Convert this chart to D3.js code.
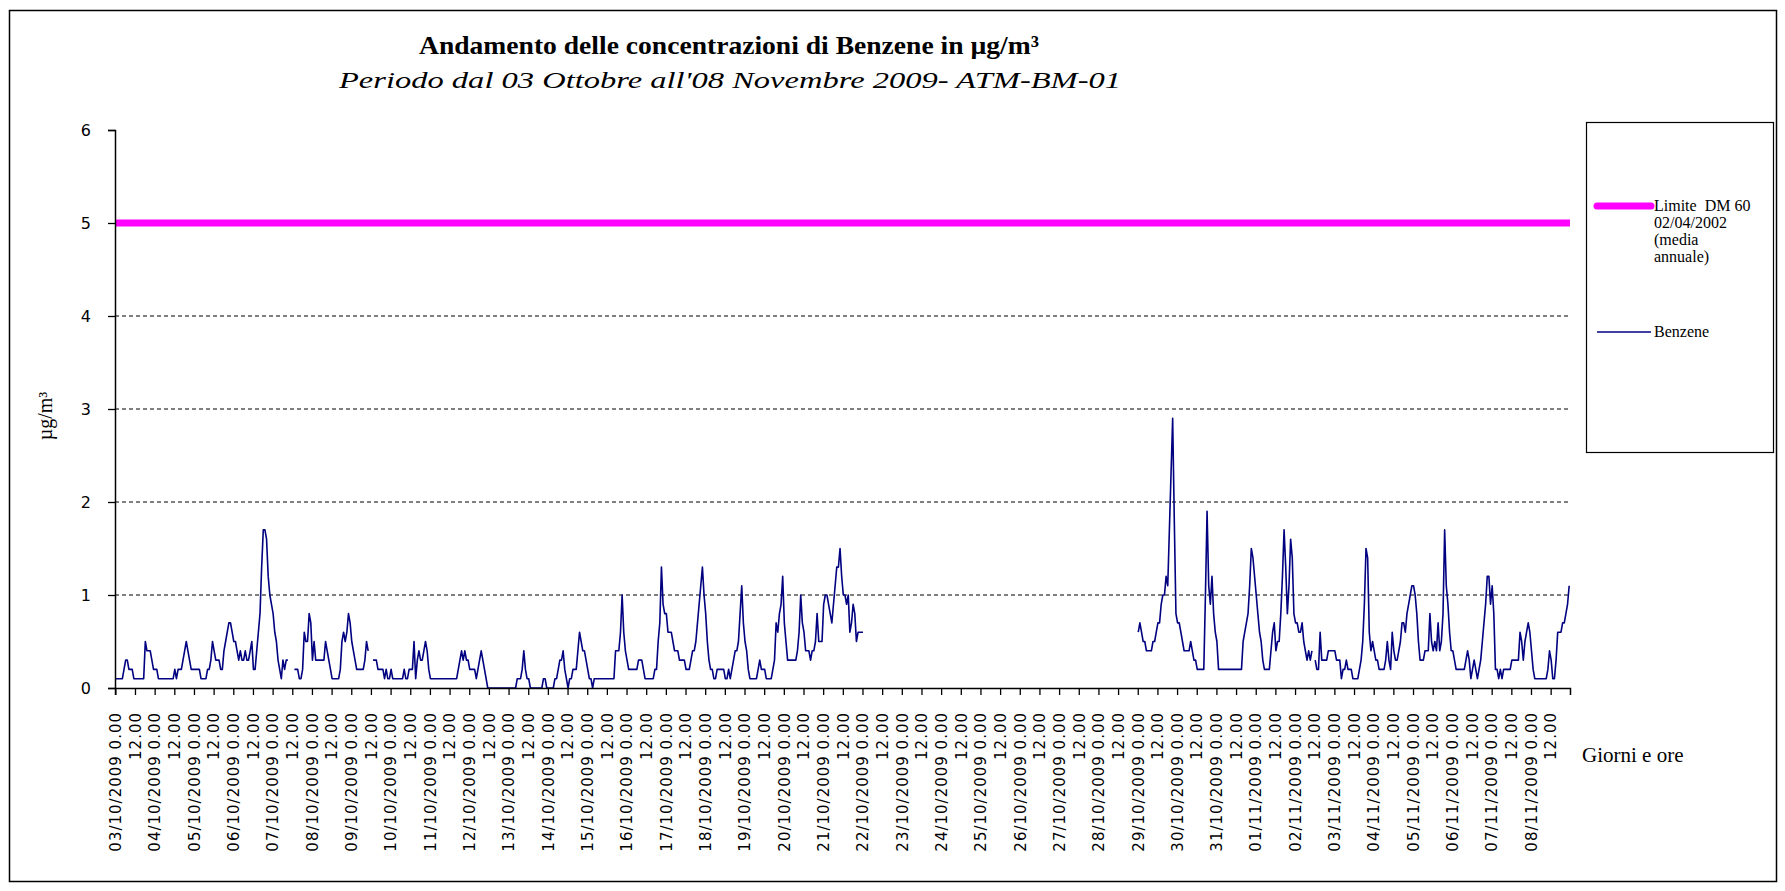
<!DOCTYPE html>
<html>
<head>
<meta charset="utf-8">
<script src="https://cdn.jsdelivr.net/npm/d3@7"></script>
<style>
  body { margin: 0; background: #fff; }
  svg text { fill: #000; }
</style>
</head>
<body>
<svg id="chart" width="1785" height="891"></svg>
<script>
// ---- data ----
const yTicks = [0, 1, 2, 3, 4, 5, 6];
const gridLevels = [1, 2, 3, 4];
const limitValue = 5; // DM 60 02/04/2002, media annuale

const days = [
  "03/10/2009", "04/10/2009", "05/10/2009", "06/10/2009", "07/10/2009", "08/10/2009", "09/10/2009",
  "10/10/2009", "11/10/2009", "12/10/2009", "13/10/2009", "14/10/2009", "15/10/2009", "16/10/2009",
  "17/10/2009", "18/10/2009", "19/10/2009", "20/10/2009", "21/10/2009", "22/10/2009", "23/10/2009",
  "24/10/2009", "25/10/2009", "26/10/2009", "27/10/2009", "28/10/2009", "29/10/2009", "30/10/2009",
  "31/10/2009", "01/11/2009", "02/11/2009", "03/11/2009", "04/11/2009", "05/11/2009", "06/11/2009",
  "07/11/2009", "08/11/2009"
];
const halfDayLabels = ["0.00", "12.00"];

// hourly benzene (µg/m3), one row = one day 0..23, null = no data
const week1 = [
  [0.1,0.1,0.1,0.1,0.1,0.2,0.3,0.3,0.2,0.2,0.2,0.1, 0.1,0.1,0.1,0.1,0.1,0.1,0.5,0.4,0.4,0.4,0.3,0.2], // 03/10
  [0.2,0.2,0.1,0.1,0.1,0.1,0.1,0.1,0.1,0.1,0.1,0.1, 0.2,0.1,0.2,0.2,0.2,0.3,0.4,0.5,0.4,0.3,0.2,0.2], // 04/10
  [0.2,0.2,0.2,0.2,0.1,0.1,0.1,0.1,0.2,0.2,0.3,0.5, 0.4,0.3,0.3,0.3,0.2,0.2,0.4,0.5,0.6,0.7,0.7,0.6], // 05/10
  [0.5,0.5,0.4,0.3,0.4,0.3,0.3,0.4,0.3,0.3,0.4,0.5, 0.2,0.2,0.4,0.6,0.8,1.3,1.7,1.7,1.6,1.2,1.0,0.9], // 06/10
  [0.8,0.6,0.5,0.3,0.2,0.1,0.3,0.2,0.3,0.3,null,null, null,0.2,0.2,0.2,0.1,0.1,0.2,0.6,0.5,0.5,0.8,0.7], // 07/10
  [0.3,0.5,0.3,0.3,0.3,0.3,0.3,0.3,0.5,0.4,0.3,0.2, 0.1,0.1,0.1,0.1,0.1,0.2,0.5,0.6,0.5,0.6,0.8,0.7], // 08/10
  [0.5,0.4,0.3,0.2,0.2,0.2,0.2,0.2,0.3,0.5,0.4,null, null,0.3,0.3,0.3,0.2,0.2,0.2,0.2,0.1,0.2,0.1,0.1]  // 09/10
];
const week2 = [
  [0.2,0.1,0.1,0.1,0.1,0.1,0.1,0.1,0.2,0.1,0.1,0.2, 0.2,0.2,0.5,0.1,0.3,0.4,0.3,0.3,0.4,0.5,0.4,0.2], // 10/10
  [0.1,0.1,0.1,0.1,0.1,0.1,0.1,0.1,0.1,0.1,0.1,0.1, 0.1,0.1,0.1,0.1,0.1,0.2,0.3,0.4,0.3,0.4,0.3,0.3], // 11/10
  [0.2,0.2,0.2,0.2,0.1,0.2,0.3,0.4,0.3,0.2,0.1,0, 0,0,0,0,0,0,0,0,0,0,0,0],                         // 12/10
  [0,0,0,0,0,0.1,0.1,0.1,0.2,0.4,0.2,0.1, 0.1,0,0,0,0,0,0,0,0,0.1,0.1,0],                             // 13/10
  [0,0,0,0,0.1,0.1,0.2,0.3,0.3,0.4,0.2,0.1, 0,0.1,0.1,0.2,0.2,0.2,0.4,0.6,0.5,0.4,0.4,0.3],           // 14/10
  [0.2,0.1,0.1,0,0.1,0.1,0.1,0.1,0.1,0.1,0.1,0.1, 0.1,0.1,0.1,0.1,0.1,0.4,0.4,0.4,0.6,1.0,0.6,0.4],   // 15/10
  [0.3,0.2,0.2,0.2,0.2,0.2,0.2,0.3,0.3,0.3,0.2,0.1, 0.1,0.1,0.1,0.1,0.1,0.2,0.2,0.5,0.7,1.3,0.9,0.8]  // 16/10
];
const week3 = [
  [0.8,0.6,0.6,0.6,0.5,0.4,0.4,0.4,0.3,0.3,0.3,0.3, 0.2,0.2,0.2,0.3,0.4,0.4,0.5,0.7,0.9,1.1,1.3,1.0], // 17/10
  [0.8,0.5,0.3,0.2,0.2,0.1,0.1,0.2,0.2,0.2,0.2,0.2, 0.1,0.1,0.2,0.1,0.2,0.3,0.4,0.4,0.5,0.8,1.1,0.7], // 18/10
  [0.5,0.4,0.2,0.1,0.1,0.1,0.1,0.1,0.2,0.3,0.2,0.2, 0.2,0.1,0.1,0.1,0.1,0.2,0.3,0.7,0.6,0.8,0.9,1.2], // 19/10
  [0.7,0.5,0.3,0.3,0.3,0.3,0.3,0.3,0.4,0.6,1.0,0.7, 0.6,0.4,0.4,0.4,0.3,0.4,0.4,0.5,0.8,0.5,0.5,0.5], // 20/10
  [0.9,1.0,1.0,0.9,0.8,0.7,0.9,1.1,1.3,1.3,1.5,1.2, 1.0,1.0,0.9,1.0,0.6,0.7,0.9,0.8,0.5,0.6,0.6,0.6], // 21/10
  [0.6,null,null,null,null,null,null,null,null,null,null,null, null,null,null,null,null,null,null,null,null,null,null,null], // 22/10
  Array(24).fill(null)                                                                                // 23/10
];
const stationOff = [
  Array(24).fill(null), Array(24).fill(null), Array(24).fill(null), // 24/10 - 26/10
  Array(24).fill(null), Array(24).fill(null)                        // 27/10 - 28/10
];
const week5 = [
  [0.6,0.7,0.6,0.5,0.5,0.4,0.4,0.4,0.4,0.5,0.5,0.6, 0.7,0.7,0.9,1.0,1.0,1.2,1.1,1.7,2.3,2.9,1.8,0.8], // 29/10
  [0.7,0.7,0.6,0.5,0.4,0.4,0.4,0.4,0.5,0.4,0.3,0.3, 0.2,0.2,0.2,0.2,0.2,1.0,1.9,1.1,0.9,1.2,0.8,0.6], // 30/10
  [0.5,0.2,0.2,0.2,0.2,0.2,0.2,0.2,0.2,0.2,0.2,0.2, 0.2,0.2,0.2,0.2,0.5,0.6,0.7,0.8,1.1,1.5,1.4,1.2], // 31/10
  [1.0,0.8,0.6,0.5,0.3,0.2,0.2,0.2,0.2,0.4,0.6,0.7, 0.4,0.5,0.5,0.8,1.2,1.7,1.3,0.8,1.1,1.6,1.4,0.8], // 01/11
  [0.7,0.7,0.6,0.6,0.7,0.5,0.4,0.3,0.4,0.3,0.4,null, 0.3,0.2,0.2,0.6,0.3,0.3,0.3,0.3,0.4,0.4,0.4,0.4], // 02/11
  [0.4,0.3,0.3,0.3,0.1,0.2,0.2,0.3,0.2,0.2,0.2,0.1, 0.1,0.1,0.1,0.2,0.3,0.5,0.9,1.5,1.4,0.6,0.4,0.5], // 03/11
  [0.4,0.3,0.3,0.2,0.2,0.2,0.2,0.3,0.5,0.3,0.2,0.6, 0.4,0.3,0.3,0.4,0.5,0.7,0.7,0.6,0.8,0.9,1.0,1.1]  // 04/11
];
const week6 = [
  [1.1,1.0,0.8,0.5,0.3,0.3,0.3,0.4,0.4,0.4,0.8,0.5, 0.4,0.5,0.4,0.7,0.4,0.5,0.8,1.7,1.1,0.9,0.6,0.4], // 05/11
  [0.4,0.3,0.2,0.2,0.2,0.2,0.2,0.2,0.3,0.4,0.3,0.1, 0.2,0.3,0.2,0.1,0.2,0.3,0.5,0.7,0.9,1.2,1.2,0.9], // 06/11
  [1.1,0.8,0.2,0.2,0.1,0.2,0.1,0.2,0.2,0.2,0.2,0.2, 0.3,0.3,0.3,0.3,0.3,0.6,0.5,0.3,0.5,0.6,0.7,0.6], // 07/11
  [0.4,0.2,0.1,0.1,0.1,0.1,0.1,0.1,0.1,0.1,0.2,0.4, 0.3,0.1,0.1,0.3,0.6,0.6,0.6,0.7,0.7,0.8,0.9,1.1]  // 08/11
];

const benzene = [].concat(...week1, ...week2, ...week3, ...stationOff, ...week5, ...week6);

// ---- layout ----
const svg = d3.select("#chart");
const plot = { left: 115, right: 1570, top: 130, bottom: 688 };
const serif = "'Liberation Serif', 'Times New Roman', serif";

const x = d3.scaleBand()
  .domain(d3.range(benzene.length))
  .range([plot.left, plot.right]);
const xc = i => x(i) + x.bandwidth() / 2;

const y = d3.scaleLinear()
  .domain([0, 6])
  .range([plot.bottom, plot.top]);

// outer frame
svg.append("rect")
  .attr("x", 9.5).attr("y", 10.5)
  .attr("width", 1767).attr("height", 871)
  .attr("fill", "none").attr("stroke", "#000").attr("stroke-width", 1.5);

// titles
svg.append("text")
  .attr("x", 729).attr("y", 54)
  .attr("text-anchor", "middle")
  .attr("textLength", 620).attr("lengthAdjust", "spacingAndGlyphs")
  .style("font-family", serif)
  .style("font-weight", "bold")
  .style("font-size", "26px")
  .text("Andamento delle concentrazioni di Benzene in µg/m³");

svg.append("text")
  .attr("x", 730).attr("y", 88)
  .attr("text-anchor", "middle")
  .attr("textLength", 782).attr("lengthAdjust", "spacingAndGlyphs")
  .style("font-family", serif)
  .style("font-style", "italic")
  .style("font-size", "24px")
  .text("Periodo dal 03 Ottobre all'08 Novembre  2009- ATM-BM-01");

// grid
svg.append("g")
  .selectAll("line")
  .data(gridLevels)
  .enter()
  .append("line")
  .attr("x1", plot.left).attr("x2", plot.right)
  .attr("y1", d => y(d)).attr("y2", d => y(d))
  .attr("stroke", "#000")
  .attr("stroke-width", 1)
  .attr("stroke-dasharray", "4,3");

// limit line
svg.append("line")
  .attr("x1", plot.left).attr("x2", plot.right)
  .attr("y1", y(limitValue)).attr("y2", y(limitValue))
  .attr("stroke", "#f0f")
  .attr("stroke-width", 7);

// benzene series
const line = d3.line()
  .defined(d => d != null)
  .x((d, i) => xc(i))
  .y(d => y(d));

svg.append("path")
  .datum(benzene)
  .attr("d", line)
  .attr("fill", "none")
  .attr("stroke", "#000080")
  .attr("stroke-width", 1.6)
  .attr("stroke-linejoin", "round");

// axes
const axisFont = "'DejaVu Sans', Verdana, sans-serif";

const yAxis = svg.append("g")
  .attr("transform", `translate(${plot.left},0)`)
  .call(d3.axisLeft(y).tickValues(yTicks).tickSize(7).tickPadding(17).tickFormat(d3.format("d")));

const xAxis = svg.append("g")
  .attr("transform", `translate(0,${plot.bottom})`)
  .call(d3.axisBottom(x)
    .tickValues(d3.range(0, benzene.length, 12))
    .tickSize(7)
    .tickFormat(i => i % 24 === 0
      ? `${days[i / 24]} ${halfDayLabels[0]}`
      : halfDayLabels[1]));

[yAxis, xAxis].forEach(g => {
  g.select(".domain").attr("stroke", "#000").attr("stroke-width", 1.5);
  g.selectAll(".tick line").attr("stroke", "#000").attr("stroke-width", 1.3);
  g.selectAll("text")
    .style("font-family", axisFont)
    .style("font-size", "15px")
    .attr("fill", "#000");
});
yAxis.selectAll("text").style("font-size", "16px");

xAxis.selectAll("text")
  .attr("transform", "rotate(-90)")
  .attr("text-anchor", "end")
  .attr("x", -24)
  .attr("y", 0)
  .attr("dy", "0.35em")
  .style("letter-spacing", "1px");

// axis titles
svg.append("text")
  .attr("transform", "translate(52,416) rotate(-90)")
  .attr("text-anchor", "middle")
  .style("font-family", serif)
  .style("font-size", "20px")
  .text("µg/m³");

svg.append("text")
  .attr("x", 1582).attr("y", 762)
  .style("font-family", serif)
  .style("font-size", "21px")
  .text("Giorni e ore");

// legend
const legend = svg.append("g");
legend.append("rect")
  .attr("x", 1586.5).attr("y", 122.5)
  .attr("width", 187).attr("height", 330)
  .attr("fill", "#fff").attr("stroke", "#000").attr("stroke-width", 1.2);

const legendItems = [
  { lines: ["Limite  DM 60", "02/04/2002", "(media", "annuale)"], color: "#f0f", width: 7, y: 206 },
  { lines: ["Benzene"], color: "#000080", width: 1.6, y: 332 }
];

legendItems.forEach(item => {
  legend.append("line")
    .attr("x1", 1597).attr("x2", 1651)
    .attr("y1", item.y).attr("y2", item.y)
    .attr("stroke", item.color)
    .attr("stroke-width", item.width)
    .attr("stroke-linecap", item.width > 3 ? "round" : "butt");

  const t = legend.append("text")
    .attr("x", 1654).attr("y", item.y + 5)
    .style("font-family", serif)
    .style("font-size", "16px");
  item.lines.forEach((s, k) => {
    t.append("tspan")
      .attr("x", 1654)
      .attr("dy", k === 0 ? 0 : 17)
      .style("white-space", "pre")
      .text(s);
  });
});
</script>
</body>
</html>
